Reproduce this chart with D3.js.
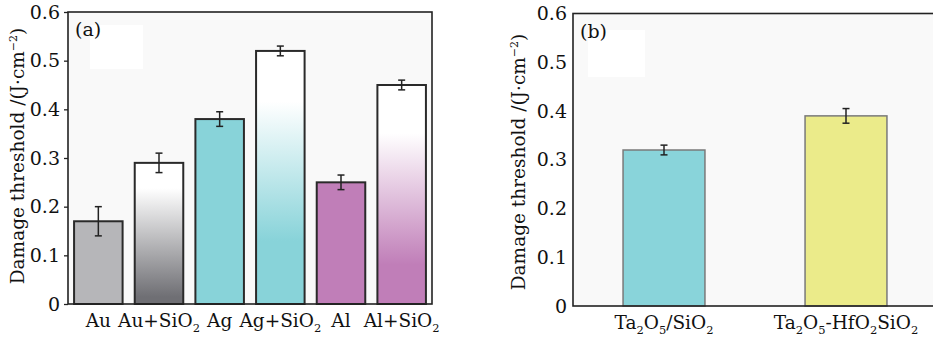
<!DOCTYPE html>
<html>
<head>
<meta charset="utf-8">
<script src="https://cdn.jsdelivr.net/npm/d3@7"></script>
<style>
  body { margin: 0; background: #fff; }
  svg { display: block; font-family: "DejaVu Serif", "Liberation Serif", serif; }
</style>
</head>
<body>
<div id="chart"></div>
<script>
// panel (a) - metal films
const catsA = ["Au", "Au+SiO_2", "Ag", "Ag+SiO_2", "Al", "Al+SiO_2"];
const valsA = [0.17, 0.29, 0.38, 0.52, 0.25, 0.45];
const errsA = [0.03, 0.02, 0.015, 0.01, 0.015, 0.01];
// panel (b) - dielectric films
const catsB = ["Ta_2O_5/SiO_2", "Ta_2O_5-HfO_2SiO_2"];
const valsB = [0.32, 0.39];
const errsB = [0.01, 0.015];
const yTicks = [0, 0.1, 0.2, 0.3, 0.4, 0.5, 0.6];

const W = 933, H = 339;
const svg = d3.select("#chart").append("svg").attr("width", W).attr("height", H);
const defs = svg.append("defs");

// fade-to-white gradients for the +SiO2 bars
function fade(id, color, whiteTo, fullAt) {
	const g = defs.append("linearGradient").attr("id", id)
		.attr("x1", 0).attr("y1", 0).attr("x2", 0).attr("y2", 1);
	g.append("stop").attr("offset", 0).attr("stop-color", "#fff");
	g.append("stop").attr("offset", whiteTo).attr("stop-color", "#fff");
	g.append("stop").attr("offset", fullAt).attr("stop-color", color);
	g.append("stop").attr("offset", 1).attr("stop-color", color);
}
fade("gAu", "#6f6f74", 0.18, 0.95);
fade("gAg", "#88d3d9", 0.2, 0.75);
fade("gAl", "#c07eb8", 0.22, 0.82);

const fillsA = ["#b6b6b9", "url(#gAu)", "#88d3d9", "url(#gAg)", "#c07eb8", "url(#gAl)"];
const fillsB = ["#89d4da", "#ebeb8a"];

// write "SiO_2" style labels with real subscripts
function richText(sel, s, size) {
	const parts = s.split(/_(\d)/);
	parts.forEach((p, i) => {
		if (p === "") return;
		if (i % 2 === 1) {
			sel.append("tspan").attr("font-size", size * 0.62).attr("dy", 5).text(p);
		} else {
			sel.append("tspan").attr("dy", i === 0 ? 0 : -5).text(p);
		}
	});
}

function panel(opt) {
	const g = svg.append("g");
	const x = d3.scaleBand().domain(opt.cats).range(opt.xr)
		.paddingInner(opt.pin).paddingOuter(opt.pout);
	const y = d3.scaleLinear().domain([0, 0.6]).range(opt.yr);

	// plot background
	g.append("rect").attr("x", opt.xr[0]).attr("y", opt.yr[1])
		.attr("width", opt.xr[1] - opt.xr[0]).attr("height", opt.yr[0] - opt.yr[1])
		.attr("fill", "#f9f9f9");
	g.append("rect").attr("x", opt.patch[0]).attr("y", opt.patch[1])
		.attr("width", opt.patch[2]).attr("height", opt.patch[3]).attr("fill", "#fff");

	g.selectAll(".bar").data(opt.vals).join("rect")
		.attr("x", (d, i) => x(opt.cats[i]))
		.attr("y", d => y(d))
		.attr("width", x.bandwidth())
		.attr("height", d => y(0) - y(d))
		.attr("fill", (d, i) => opt.fills[i])
		.attr("stroke", opt.barStroke)
		.attr("stroke-width", opt.barSW);

	// error bars
	const eb = g.selectAll(".err").data(opt.vals).join("g")
		.attr("transform", (d, i) => `translate(${x(opt.cats[i]) + x.bandwidth() / 2},0)`);
	eb.append("line").attr("y1", (d, i) => y(d - opt.errs[i])).attr("y2", (d, i) => y(d + opt.errs[i]));
	eb.append("line").attr("x1", -3.5).attr("x2", 3.5)
		.attr("y1", (d, i) => y(d + opt.errs[i])).attr("y2", (d, i) => y(d + opt.errs[i]));
	eb.append("line").attr("x1", -3.5).attr("x2", 3.5)
		.attr("y1", (d, i) => y(d - opt.errs[i])).attr("y2", (d, i) => y(d - opt.errs[i]));
	eb.selectAll("line").attr("stroke", "#222").attr("stroke-width", 1.5);

	// axes
	const ya = g.append("g").attr("transform", `translate(${opt.xr[0]},0)`)
		.call(d3.axisLeft(y).tickValues(yTicks).tickFormat(d => d === 0 ? "0" : d3.format(".1f")(d))
			.tickSize(opt.tick).tickPadding(opt.tick ? 4 : 6));
	ya.select(".domain").remove();
	ya.selectAll("line").attr("stroke", "#222").attr("stroke-width", 1.3);
	ya.selectAll("text").attr("font-size", 19).attr("fill", "#111")
		.attr("font-family", "DejaVu Serif");

	g.append("text").attr("transform", `translate(${opt.titleX},${opt.titleY}) rotate(-90)`)
		.attr("text-anchor", "middle").attr("font-size", 18.5).attr("fill", "#111")
		.call(t => {
			t.append("tspan").text("Damage threshold /(J\u00b7cm");
			t.append("tspan").attr("font-size", 11).attr("dy", -7).text("\u22122");
			t.append("tspan").attr("dy", 7).text(")");
		});

	opt.cats.forEach(c => {
		g.append("text").attr("x", x(c) + x.bandwidth() / 2).attr("y", opt.yr[0] + 23)
			.attr("text-anchor", "middle").attr("font-size", 18.5).attr("fill", "#111")
			.call(t => richText(t, c, 18.5));
	});

	// frame
	g.append("rect").attr("x", opt.xr[0]).attr("y", opt.yr[1])
		.attr("width", opt.xr[1] - opt.xr[0]).attr("height", opt.yr[0] - opt.yr[1])
		.attr("fill", "none").attr("stroke", "#222").attr("stroke-width", 1.6);

	g.append("text").attr("x", opt.xr[0] + opt.labelDx).attr("y", opt.yr[1] + 24)
		.attr("font-size", 19).attr("fill", "#111").text(opt.label);
}

panel({
	cats: catsA, vals: valsA, errs: errsA, fills: fillsA,
	xr: [68, 432], yr: [304, 12], pin: 0.2, pout: 0.1,
	barStroke: "#2a2a2a", barSW: 2, tick: 4, titleX: 24, titleY: 156,
	patch: [90, 25, 53, 44], label: "(a)", labelDx: 7
});
panel({
	cats: catsB, vals: valsB, errs: errsB, fills: fillsB,
	xr: [573, 937], yr: [306, 13.5], pin: 0.55, pout: 0.275,
	barStroke: "#7a7a7a", barSW: 1.5, tick: 0, titleX: 525, titleY: 162,
	patch: [588, 30, 57, 47], label: "(b)", labelDx: 7
});
</script>
</body>
</html>
